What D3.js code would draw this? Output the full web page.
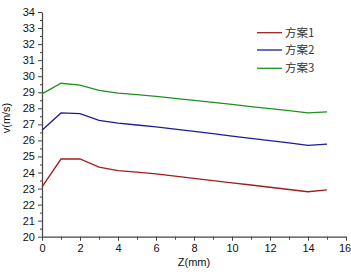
<!DOCTYPE html>
<html>
<head>
<meta charset="utf-8">
<script src="https://cdn.jsdelivr.net/npm/d3@7"></script>
<style>
  body { margin: 0; background: #fff; }
  text { font-family: "Liberation Sans", Arial, sans-serif; }
</style>
</head>
<body>
<script>
// data
const zValues = [0, 1, 2, 3, 4, 5, 6, 7, 8, 9, 10, 11, 12, 13, 14, 15];
const plan1 = [23.1, 24.84, 24.84, 24.34, 24.12, 24.02, 23.92, 23.78, 23.64, 23.50, 23.36, 23.22, 23.08, 22.94, 22.80, 22.92];
const plan2 = [26.63, 27.71, 27.67, 27.25, 27.08, 26.96, 26.84, 26.70, 26.56, 26.42, 26.27, 26.12, 25.98, 25.84, 25.69, 25.77];
const plan3 = [28.9, 29.56, 29.44, 29.12, 28.95, 28.85, 28.74, 28.62, 28.50, 28.37, 28.24, 28.11, 27.98, 27.85, 27.71, 27.78];
const seriesNames = ["方案1", "方案2", "方案3"];
const seriesColors = ["#a11d1d", "#1d1d9a", "#22901f"];
const xTicks = [0, 2, 4, 6, 8, 10, 12, 14, 16];
const yTicks = [20, 21, 22, 23, 24, 25, 26, 27, 28, 29, 30, 31, 32, 33, 34];

const svgwidth = 351, svgheight = 274;
const margin = {left: 42, right: 5, top: 12, bottom: 37.3};

const X = d3.scaleLinear().domain([0, 16]).range([margin.left, svgwidth - margin.right]);
const Y = d3.scaleLinear().domain([20, 34]).range([svgheight - margin.bottom, margin.top]);

const svg = d3.select("body").append("svg")
    .attr("width", svgwidth)
    .attr("height", svgheight);

//MINOR TICKS
svg.append("g")
    .attr("transform", `translate(0,${Y(20)})`)
    .call(d3.axisBottom(X).tickValues(d3.range(1, 16, 2)).tickSize(3).tickFormat(""))
    .call(g => g.select(".domain").remove());
svg.append("g")
    .attr("transform", `translate(${X(0)},0)`)
    .call(d3.axisLeft(Y).tickValues(d3.range(20.5, 34, 1)).tickSize(2).tickFormat(""))
    .call(g => g.select(".domain").remove());

//AXES
const xAxis = svg.append("g")
    .attr("transform", `translate(0,${Y(20)})`)
    .call(d3.axisBottom(X).tickValues(xTicks).tickSize(4).tickSizeOuter(0).tickPadding(4));
const yAxis = svg.append("g")
    .attr("transform", `translate(${X(0)},0)`)
    .call(d3.axisLeft(Y).tickValues(yTicks).tickSize(4).tickSizeOuter(0).tickPadding(3));

svg.selectAll(".tick line").attr("stroke", "#444");
svg.selectAll(".domain").attr("stroke", "#444").attr("stroke-width", 1.2);
svg.selectAll(".tick text")
    .attr("font-size", 11)
    .attr("font-family", "Liberation Sans, Arial, sans-serif")
    .attr("fill", "#111");
// last x label sits right at the edge, nudge it in
xAxis.selectAll(".tick text").filter(d => d === 16).attr("dx", -1.5);

//AXIS TITLES
svg.append("text")
    .attr("x", X(8))
    .attr("y", 266)
    .attr("text-anchor", "middle")
    .attr("font-size", 11)
    .attr("fill", "#111")
    .text("Z(mm)");
svg.append("text")
    .attr("transform", `translate(10,118) rotate(-90)`)
    .attr("text-anchor", "middle")
    .attr("font-size", 11)
    .attr("fill", "#111")
    .text("v(m/s)");

//LINES
const allSeries = [plan1, plan2, plan3];
const line = d3.line()
    .x((d, i) => X(zValues[i]))
    .y(d => Y(d));

svg.selectAll(".series")
    .data(allSeries)
    .enter().append("path").classed("series", true)
    .attr("d", d => line(d))
    .attr("fill", "none")
    .attr("stroke", (d, i) => seriesColors[i])
    .attr("stroke-width", 1.3);

//LEGEND
const legend = svg.selectAll(".legend")
    .data(seriesNames)
    .enter().append("g").classed("legend", true)
    .attr("transform", (d, i) => `translate(257,${[32.7, 50, 68.3][i]})`);
legend.append("line")
    .attr("x1", 0).attr("x2", 25)
    .attr("stroke", (d, i) => seriesColors[i])
    .attr("stroke-width", 1.3);
legend.append("text")
    .attr("x", 28)
    .attr("y", 4)
    .attr("font-size", 11.5)
    .attr("fill", "#333")
    .style("font-family", "'Noto Sans CJK SC', 'Liberation Sans', sans-serif")
    .text(d => d);
</script>
</body>
</html>
